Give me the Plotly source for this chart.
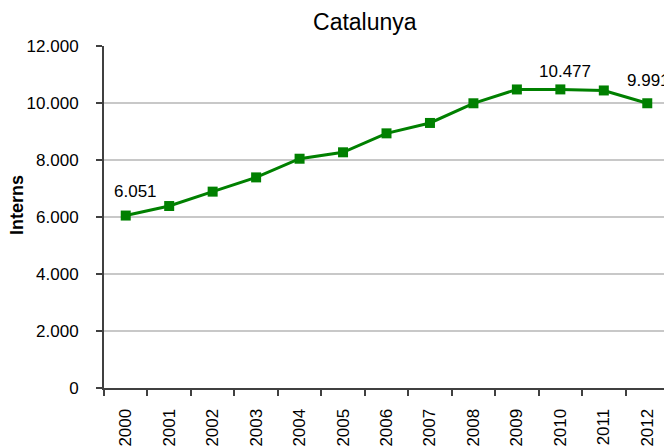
import plotly.graph_objects as go

years = ["2000", "2001", "2002", "2003", "2004", "2005", "2006",
         "2007", "2008", "2009", "2010", "2011", "2012"]
interns = [6051, 6385, 6890, 7390, 8045, 8270, 8935,
           9300, 9990, 10475, 10477, 10440, 9991]
label_years = ["2000", "2010", "2012"]
label_texts = ["6.051", "10.477", "9.991"]
label_values = [6051, 10477, 9991]
ytick_vals = [0, 2000, 4000, 6000, 8000, 10000, 12000]

FONT = "Liberation Sans, Arial, sans-serif"
label_offsets = [(10, 24), (5, 18), (1, 23)]

fig = go.Figure()
fig.add_trace(go.Scatter(
    x=years, y=interns, mode="lines+markers",
    line=dict(color="#008000", width=3),
    marker=dict(symbol="square", size=10, color="#008000"),
    showlegend=False, cliponaxis=False,
))

for yr, txt, val, (dx, dy) in zip(label_years, label_texts, label_values, label_offsets):
    fig.add_annotation(x=years.index(yr), y=val, xref="x", yref="y",
                       text=txt, showarrow=False, xshift=dx, yshift=dy,
                       font=dict(family=FONT, size=17, color="#000000"))

fig.add_annotation(xref="paper", yref="paper", x=-0.154, y=0.535,
                   text="<b>Interns</b>", textangle=-90, showarrow=False,
                   xanchor="center", yanchor="middle",
                   font=dict(family=FONT, size=18, color="#000000"))

fig.update_layout(
    width=672, height=448,
    margin=dict(l=96, r=11, t=38, b=68),
    paper_bgcolor="white", plot_bgcolor="white",
    separators=",.",
    title=dict(text="Catalunya", xref="container", x=0.531, xanchor="center",
               yref="container", y=0.969, yanchor="middle",
               font=dict(family=FONT, size=23, color="#000000")),
    font=dict(family=FONT, size=17, color="#000000"),
)
fig.update_xaxes(
    type="category", range=[-0.5, 12.5], tickangle=-90,
    tickson="boundaries", ticks="outside", ticklen=6, tickcolor="#404040", tickwidth=2,
    showline=True, linecolor="#404040", linewidth=2, showgrid=False,
    tickfont=dict(family=FONT, size=17), automargin=False, ticklabelstandoff=12,
)
fig.update_yaxes(
    range=[0, 12000], tickvals=ytick_vals, tickformat=",d",
    ticks="outside", ticklen=6, tickcolor="#404040", tickwidth=2,
    showline=True, linecolor="#404040", linewidth=2,
    showgrid=True, gridcolor="#c8c8c8", gridwidth=1.5,
    zeroline=False, tickfont=dict(family=FONT, size=17), automargin=False,
    ticklabelstandoff=14,
)
fig.write_html("out.html")
